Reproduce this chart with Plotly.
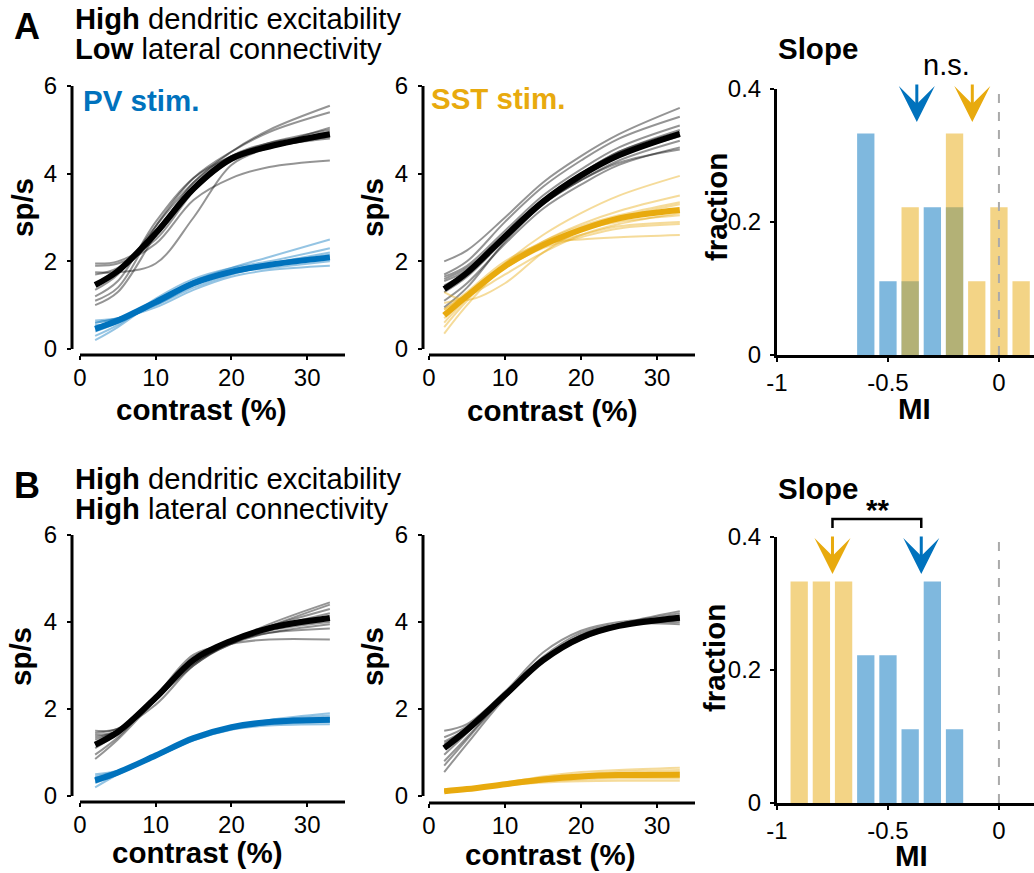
import plotly.graph_objects as go

W, H = 1034, 873
FONT = "Liberation Sans, Arial, sans-serif"
BLUE = "#0072BD"
YELLOW = "#E8AA0E"

# ---------------- data ----------------
contrast = [2, 5, 10, 15, 20, 25, 33]

# Panel A (low lateral connectivity) - PV stimulation
A_pv_ctrl_trials = [
    [1.00, 1.30, 2.60, 3.80, 4.50, 5.00, 5.55],
    [1.10, 1.40, 2.80, 3.90, 4.50, 4.95, 5.40],
    [1.20, 1.55, 2.90, 3.90, 4.40, 4.70, 5.00],
    [1.35, 1.70, 2.80, 3.80, 4.40, 4.65, 4.95],
    [1.50, 1.75, 2.70, 3.70, 4.35, 4.60, 4.85],
    [1.70, 1.85, 2.60, 3.60, 4.30, 4.60, 4.80],
    [1.75, 1.75, 1.95, 3.00, 4.20, 4.60, 5.05],
    [1.90, 1.95, 2.40, 3.40, 3.90, 4.15, 4.30],
    [1.95, 2.00, 2.50, 3.60, 4.40, 4.70, 4.90],
]
A_pv_ctrl_mean = [1.46, 1.78, 2.64, 3.66, 4.34, 4.62, 4.90]
A_pv_stim_trials = [
    [0.20, 0.50, 1.10, 1.55, 1.85, 2.10, 2.50],
    [0.30, 0.55, 1.15, 1.60, 1.85, 2.00, 2.30],
    [0.45, 0.65, 1.05, 1.50, 1.80, 1.95, 2.20],
    [0.50, 0.65, 1.00, 1.45, 1.75, 1.90, 2.10],
    [0.60, 0.70, 1.00, 1.40, 1.70, 1.90, 2.05],
    [0.65, 0.70, 0.95, 1.35, 1.65, 1.80, 1.90],
    [0.55, 0.60, 1.05, 1.55, 1.80, 1.95, 2.15],
    [0.40, 0.60, 1.10, 1.55, 1.80, 1.95, 2.10],
    [0.60, 0.70, 1.05, 1.50, 1.75, 1.85, 2.00],
]
A_pv_stim_mean = [0.46, 0.65, 1.07, 1.50, 1.76, 1.92, 2.09]

# Panel A - SST stimulation
A_sst_ctrl_trials = [
    [2.00, 2.25, 3.00, 3.80, 4.40, 4.90, 5.50],
    [1.70, 2.00, 2.90, 3.70, 4.30, 4.80, 5.30],
    [1.65, 1.90, 2.70, 3.50, 4.10, 4.60, 5.10],
    [1.55, 1.80, 2.60, 3.40, 4.00, 4.50, 5.00],
    [1.45, 1.75, 2.50, 3.30, 3.90, 4.40, 4.85],
    [1.30, 1.65, 2.50, 3.30, 3.85, 4.30, 4.75],
    [1.10, 1.50, 2.40, 3.20, 3.75, 4.20, 4.60],
    [0.95, 1.40, 2.45, 3.30, 3.85, 4.25, 4.55],
    [1.60, 1.85, 2.60, 3.40, 4.00, 4.50, 4.95],
]
A_sst_ctrl_mean = [1.37, 1.74, 2.57, 3.36, 3.96, 4.42, 4.91]
A_sst_stim_trials = [
    [0.50, 1.10, 1.95, 2.60, 3.10, 3.50, 3.95],
    [0.60, 1.15, 1.90, 2.45, 2.85, 3.15, 3.50],
    [0.70, 1.20, 1.95, 2.45, 2.80, 3.05, 3.35],
    [0.90, 1.25, 1.85, 2.35, 2.75, 3.00, 3.30],
    [1.05, 1.20, 1.70, 2.20, 2.60, 2.85, 3.10],
    [1.30, 1.12, 1.50, 2.20, 2.70, 2.90, 3.05],
    [0.35, 1.00, 1.90, 2.35, 2.60, 2.80, 2.90],
    [0.80, 1.25, 1.85, 2.30, 2.55, 2.75, 2.85],
    [0.90, 1.30, 2.00, 2.40, 2.50, 2.55, 2.60],
]
A_sst_stim_mean = [0.77, 1.21, 1.89, 2.37, 2.72, 2.98, 3.17]

# Panel B (high lateral connectivity) - PV stimulation
B_pv_ctrl_trials = [
    [0.85, 1.30, 2.20, 3.00, 3.55, 3.95, 4.45],
    [0.95, 1.35, 2.25, 3.05, 3.55, 3.90, 4.40],
    [1.10, 1.45, 2.30, 3.10, 3.60, 3.90, 4.30],
    [1.20, 1.50, 2.30, 3.10, 3.55, 3.85, 4.20],
    [1.30, 1.50, 2.20, 3.10, 3.55, 3.85, 4.10],
    [1.35, 1.50, 2.20, 3.05, 3.50, 3.80, 4.00],
    [1.45, 1.55, 2.10, 3.00, 3.50, 3.75, 3.95],
    [1.50, 1.55, 2.25, 3.20, 3.55, 3.75, 3.85],
    [1.40, 1.50, 2.30, 3.25, 3.50, 3.60, 3.60],
]
B_pv_ctrl_mean = [1.18, 1.47, 2.26, 3.13, 3.57, 3.86, 4.09]
B_pv_stim_trials = [
    [0.20, 0.50, 0.95, 1.35, 1.60, 1.75, 1.90],
    [0.30, 0.50, 0.90, 1.30, 1.55, 1.72, 1.85],
    [0.35, 0.55, 0.92, 1.35, 1.60, 1.72, 1.80],
    [0.40, 0.55, 0.95, 1.35, 1.58, 1.70, 1.75],
    [0.45, 0.57, 0.90, 1.30, 1.55, 1.65, 1.70],
    [0.50, 0.58, 0.90, 1.28, 1.52, 1.62, 1.65],
    [0.38, 0.55, 0.95, 1.36, 1.60, 1.70, 1.78],
    [0.32, 0.52, 0.93, 1.32, 1.57, 1.70, 1.80],
    [0.42, 0.56, 0.92, 1.30, 1.55, 1.66, 1.72],
]
B_pv_stim_mean = [0.36, 0.54, 0.93, 1.33, 1.58, 1.70, 1.75]

# Panel B - SST stimulation
B_sst_ctrl_trials = [
    [0.55, 1.20, 2.25, 3.10, 3.65, 3.95, 4.25],
    [0.70, 1.30, 2.30, 3.15, 3.70, 3.95, 4.20],
    [0.80, 1.35, 2.30, 3.10, 3.65, 3.90, 4.15],
    [0.95, 1.45, 2.35, 3.10, 3.60, 3.90, 4.10],
    [1.10, 1.50, 2.30, 3.10, 3.60, 3.88, 4.05],
    [1.25, 1.55, 2.30, 3.15, 3.70, 3.95, 4.00],
    [1.35, 1.60, 2.35, 3.20, 3.75, 3.95, 3.95],
    [1.50, 1.65, 2.40, 3.30, 3.80, 4.00, 4.10],
    [1.20, 1.55, 2.35, 3.15, 3.65, 3.90, 4.05],
]
B_sst_ctrl_mean = [1.10, 1.52, 2.32, 3.12, 3.64, 3.91, 4.10]
B_sst_stim_trials = [
    [0.10, 0.17, 0.30, 0.45, 0.55, 0.60, 0.65],
    [0.10, 0.16, 0.29, 0.42, 0.50, 0.56, 0.60],
    [0.11, 0.16, 0.28, 0.40, 0.48, 0.52, 0.55],
    [0.11, 0.16, 0.27, 0.38, 0.45, 0.48, 0.50],
    [0.12, 0.16, 0.26, 0.36, 0.42, 0.44, 0.45],
    [0.12, 0.15, 0.25, 0.34, 0.38, 0.40, 0.40],
    [0.10, 0.15, 0.24, 0.31, 0.34, 0.35, 0.35],
]
B_sst_stim_mean = [0.11, 0.16, 0.27, 0.38, 0.45, 0.48, 0.49]

# Slope modulation-index histograms
mi_bins_A = [-0.6, -0.5, -0.4, -0.3, -0.2, -0.1, 0.0, 0.1]
A_pv_frac = [0.333, 0.111, 0.111, 0.222, 0.222, 0.0, 0.0, 0.0]
A_sst_frac = [0.0, 0.0, 0.222, 0.0, 0.333, 0.111, 0.222, 0.111]
A_pv_mean_mi = -0.37
A_sst_mean_mi = -0.12

mi_bins_B = [-0.9, -0.8, -0.7, -0.6, -0.5, -0.4, -0.3, -0.2]
B_pv_frac = [0.0, 0.0, 0.0, 0.222, 0.222, 0.111, 0.333, 0.111]
B_sst_frac = [0.333, 0.333, 0.333, 0.0, 0.0, 0.0, 0.0, 0.0]
B_pv_mean_mi = -0.35
B_sst_mean_mi = -0.75

rate_ticks = [0, 2, 4, 6]
contrast_ticks = [0, 10, 20, 30]
mi_ticks = [-1, -0.5, 0]
mi_ticktext = ["-1", "-0.5", "0"]
frac_ticks = [0, 0.2, 0.4]
frac_ticktext = ["0", "0.2", "0.4"]


# ---------------- helpers ----------------
def fx(p):
    return p / W


def fy(p):
    return 1 - p / H


fig = go.Figure()


def rgba(hexc, a):
    h = hexc.lstrip("#")
    r, g, b = int(h[0:2], 16), int(h[2:4], 16), int(h[4:6], 16)
    return f"rgba({r},{g},{b},{a})"


def curve_panel(xa, ya, ctrl_trials, ctrl_mean, stim_trials, stim_mean, col):
    for tr in ctrl_trials:
        fig.add_trace(go.Scatter(x=contrast, y=tr, mode="lines", xaxis=xa, yaxis=ya,
                                 line=dict(color="rgba(0,0,0,0.42)", width=2, shape="spline"),
                                 hoverinfo="skip", showlegend=False))
    for tr in stim_trials:
        fig.add_trace(go.Scatter(x=contrast, y=tr, mode="lines", xaxis=xa, yaxis=ya,
                                 line=dict(color=rgba(col, 0.42), width=2, shape="spline"),
                                 hoverinfo="skip", showlegend=False))
    fig.add_trace(go.Scatter(x=contrast, y=ctrl_mean, mode="lines", xaxis=xa, yaxis=ya,
                             line=dict(color="black", width=6, shape="spline"),
                             showlegend=False))
    fig.add_trace(go.Scatter(x=contrast, y=stim_mean, mode="lines", xaxis=xa, yaxis=ya,
                             line=dict(color=col, width=6, shape="spline"),
                             showlegend=False))


def hist_panel(xa, ya, bins, pv, sst):
    fig.add_trace(go.Bar(x=bins, y=pv, width=0.078, xaxis=xa, yaxis=ya,
                         marker=dict(color=rgba(BLUE, 0.5), line=dict(width=0)),
                         showlegend=False))
    fig.add_trace(go.Bar(x=bins, y=sst, width=0.078, xaxis=xa, yaxis=ya,
                         marker=dict(color=rgba(YELLOW, 0.5), line=dict(width=0)),
                         showlegend=False))
    fig.add_trace(go.Scatter(x=[0, 0], y=[0, 0.4], mode="lines", xaxis=xa, yaxis=ya,
                             line=dict(color="#aaaaaa", width=2, dash="dash"),
                             showlegend=False))


curve_panel("x", "y", A_pv_ctrl_trials, A_pv_ctrl_mean, A_pv_stim_trials, A_pv_stim_mean, BLUE)
curve_panel("x2", "y2", A_sst_ctrl_trials, A_sst_ctrl_mean, A_sst_stim_trials, A_sst_stim_mean, YELLOW)
hist_panel("x3", "y3", mi_bins_A, A_pv_frac, A_sst_frac)
curve_panel("x4", "y4", B_pv_ctrl_trials, B_pv_ctrl_mean, B_pv_stim_trials, B_pv_stim_mean, BLUE)
curve_panel("x5", "y5", B_sst_ctrl_trials, B_sst_ctrl_mean, B_sst_stim_trials, B_sst_stim_mean, YELLOW)
hist_panel("x6", "y6", mi_bins_B, B_pv_frac, B_sst_frac)

LW = 3
axis_common = dict(linecolor="black", linewidth=LW, ticks="outside",
                   ticklen=4, tickwidth=2, tickcolor="black", showgrid=False,
                   zeroline=False, fixedrange=True,
                   tickfont=dict(family=FONT, size=24, color="black"))

layout_axes = {}
shapes = []

# curve panels: (suffix, y-axis x px, x=0 px, x=35 px, x-axis y px, y=0 px, y=6 px)
curve_geo = [
    ("", 72, 80, 345, 355, 349, 86),
    ("2", 423, 429, 695, 355, 349, 86),
    ("4", 72, 80, 345, 802, 796, 535),
    ("5", 423, 429, 695, 803, 796, 535),
]
X_MAX, Y_MAX = 35, 6
for suf, yax_px, x0_px, x1_px, xax_py, y0_py, y1_py in curve_geo:
    x_lo = -(x0_px - yax_px) * X_MAX / (x1_px - x0_px)
    y_lo = -(xax_py - y0_py) * Y_MAX / (y0_py - y1_py)
    xid, yid = "x" + suf, "y" + suf
    layout_axes["xaxis" + suf] = dict(domain=[fx(yax_px), fx(x1_px)], range=[x_lo, X_MAX],
                                      anchor=yid, showline=False, ticklabelstandoff=-3,
                                      tickvals=contrast_ticks,
                                      ticktext=[str(v) for v in contrast_ticks], **axis_common)
    layout_axes["yaxis" + suf] = dict(domain=[fy(xax_py), fy(y1_py)], range=[y_lo, Y_MAX],
                                      anchor=xid, showline=False, ticklabelstandoff=5,
                                      tickvals=rate_ticks,
                                      ticktext=[str(v) for v in rate_ticks], **axis_common)
    # detached axis lines (MATLAB style offset axes)
    shapes.append(dict(type="line", xref=xid, yref=yid + " domain", x0=0, x1=X_MAX, y0=0, y1=0,
                       line=dict(color="black", width=LW)))
    shapes.append(dict(type="line", xref=xid + " domain", yref=yid, x0=0, x1=0, y0=0, y1=Y_MAX,
                       line=dict(color="black", width=LW)))

# histogram panels: (suffix, y-axis x px, x-axis y px, y=0.4 px)
hist_geo = [("3", 777, 355, 89), ("6", 777, 803, 537)]
for suf, yax_px, xax_py, ytop_py in hist_geo:
    xid, yid = "x" + suf, "y" + suf
    layout_axes["xaxis" + suf] = dict(domain=[fx(yax_px), 1.0], range=[-1, 0.158],
                                      anchor=yid, showline=True, ticklabelstandoff=0,
                                      tickvals=mi_ticks, ticktext=mi_ticktext, **axis_common)
    layout_axes["yaxis" + suf] = dict(domain=[fy(xax_py), fy(ytop_py)], range=[0, 0.4],
                                      anchor=xid, showline=True, ticklabelstandoff=4,
                                      tickvals=frac_ticks, ticktext=frac_ticktext, **axis_common)

annotations = []
BSZ = 29.5  # bold label size


def text(x, y, s, size=BSZ, bold=False, color="black", xanchor="center", angle=0):
    annotations.append(dict(x=fx(x), y=fy(y), xref="paper", yref="paper",
                            text=f"<b>{s}</b>" if bold else s, showarrow=False,
                            xanchor=xanchor, yanchor="middle", textangle=angle,
                            font=dict(family=FONT, size=size, color=color)))


# panel letters and headers
text(12, 26, "A", size=36, bold=True, xanchor="left")
text(73, 19, "<b>High</b> dendritic excitability", size=29.2, xanchor="left")
text(73, 49, "<b>Low</b> lateral connectivity", size=29.2, xanchor="left")
text(12, 485, "B", size=36, bold=True, xanchor="left")
text(73, 479, "<b>High</b> dendritic excitability", size=29.2, xanchor="left")
text(73, 509, "<b>High</b> lateral connectivity", size=29.2, xanchor="left")

# stim labels
text(81, 100, "PV stim.", bold=True, color=BLUE, xanchor="left")
text(429, 98, "SST stim.", bold=True, color=YELLOW, xanchor="left")

# axis titles
for (cx, cy) in [(201, 409), (552, 410), (197, 852), (550, 854)]:
    text(cx, cy, "contrast (%)", bold=True)
for (cx, cy) in [(22, 208), (372, 208), (20, 657), (372, 657)]:
    text(cx, cy, "sp/s", bold=True, angle=-90)
for (cx, cy) in [(716, 207), (714, 658)]:
    text(cx, cy, "fraction", bold=True, angle=-90)
for (cx, cy) in [(914, 408), (911, 855)]:
    text(cx, cy, "MI", bold=True)

# histogram titles and stats
text(776, 48, "Slope", bold=True, xanchor="left")
text(776, 488, "Slope", bold=True, xanchor="left")
text(946, 65, "n.s.", size=29)
text(877, 509, "**", bold=True)


def arrow(xa, mi, tip_y, col):
    annotations.append(dict(x=mi, y=fy(tip_y), xref=xa, yref="paper", text="",
                            showarrow=True, ax=0, ay=-39, axref="pixel", ayref="pixel",
                            arrowhead=3, arrowsize=2.0, arrowwidth=3, arrowcolor=col))


arrow("x3", A_pv_mean_mi, 122, BLUE)
arrow("x3", A_sst_mean_mi, 122, YELLOW)
arrow("x6", B_pv_mean_mi, 574, BLUE)
arrow("x6", B_sst_mean_mi, 574, YELLOW)

shapes.append(dict(type="path", xref="x6", yref="paper",
                   path=f"M {B_sst_mean_mi},{fy(528)} L {B_sst_mean_mi},{fy(519)} "
                        f"L {B_pv_mean_mi},{fy(519)} L {B_pv_mean_mi},{fy(528)}",
                   line=dict(color="black", width=2.5)))

fig.update_layout(
    width=W, height=H,
    margin=dict(l=0, r=0, t=0, b=0, pad=0, autoexpand=False),
    paper_bgcolor="white", plot_bgcolor="rgba(0,0,0,0)",
    barmode="overlay", showlegend=False,
    annotations=annotations, shapes=shapes,
    font=dict(family=FONT, color="black"),
    **layout_axes,
)

fig.write_html("out.html")
